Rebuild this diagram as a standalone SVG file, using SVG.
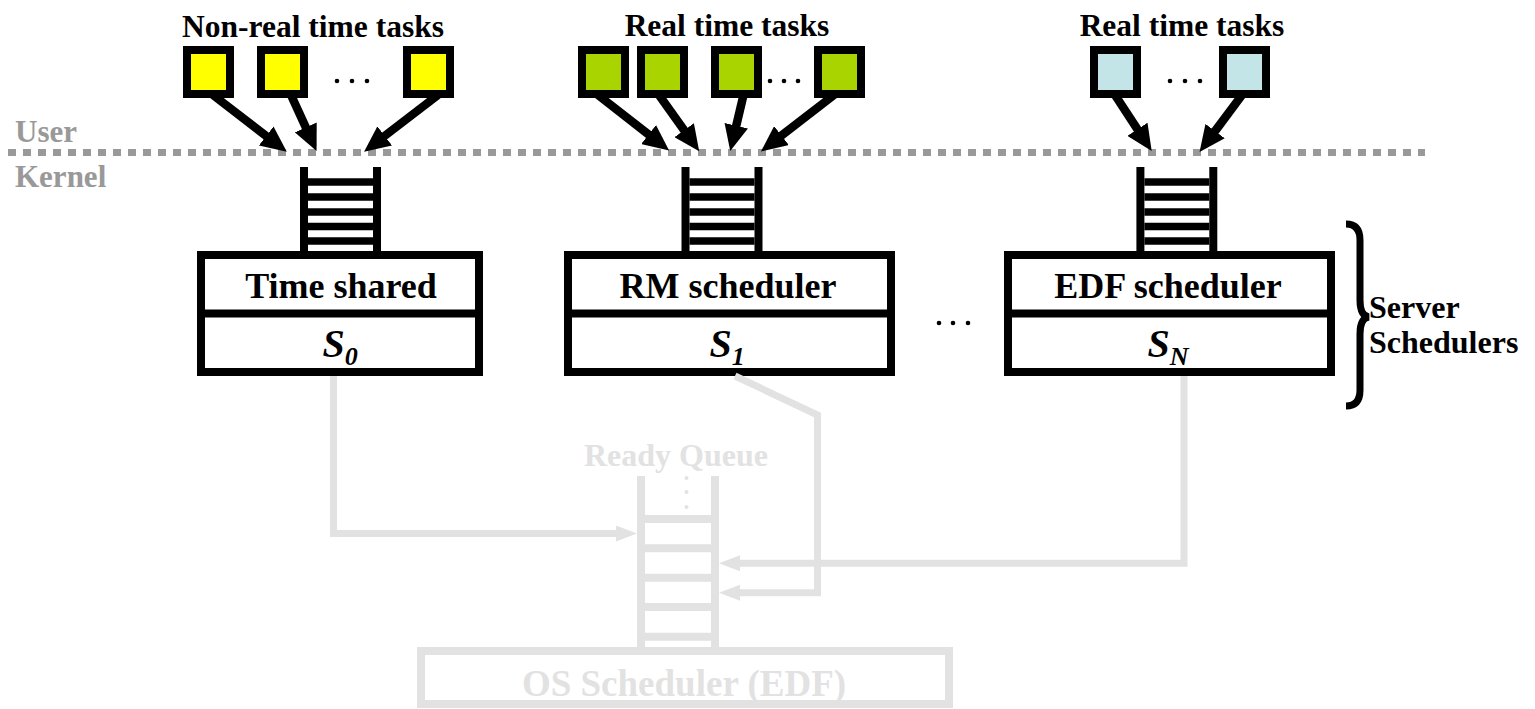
<svg xmlns="http://www.w3.org/2000/svg" width="1535" height="709" viewBox="0 0 1535 709">
<style>
.t{font-family:"Liberation Serif","Times New Roman",serif;font-weight:bold}
.it{font-style:italic}
.task{stroke:#000;stroke-width:8}
.y{fill:#ffff00}.g{fill:#aad400}.b{fill:#c4e5e8}
.arrow{stroke:#000;stroke-width:8.5;fill:none;marker-end:url(#ah)}
.garrow{stroke:#e2e2e2;stroke-width:7;fill:none;marker-end:url(#gah)}
.box{fill:#fff;stroke:#000;stroke-width:8}
.rail{stroke:#000;stroke-width:8}
.rung{stroke:#000;stroke-width:7.5}
.grail{stroke:#e2e2e2;stroke-width:8}
.gbox{fill:#fff;stroke:#e2e2e2;stroke-width:8}
.dot{fill:#000}
</style>
<defs>
<marker id="ah" markerUnits="userSpaceOnUse" viewBox="0 0 26 24" markerWidth="26" markerHeight="24" refX="1" refY="12" orient="auto"><path d="M0,0 L26,12 L0,24 z" fill="#000"/></marker>
<marker id="gah" markerUnits="userSpaceOnUse" viewBox="0 0 21 16" markerWidth="21" markerHeight="16" refX="1" refY="8" orient="auto"><path d="M0,0 L21,8 L0,16 z" fill="#e2e2e2"/></marker>
</defs>
<rect width="1535" height="709" fill="#fff"/>

<!-- user/kernel boundary -->
<g id="boundary">
<line x1="8" y1="152.5" x2="1425" y2="152.5" stroke="#999" stroke-width="7" stroke-dasharray="8 7"/>
<text class="t" x="15" y="142" font-size="31" fill="#999">User</text>
<text class="t" x="15" y="187" font-size="31" fill="#999">Kernel</text>
</g>

<!-- titles -->
<g id="titles">
<text class="t" x="313" y="37" font-size="31.5" text-anchor="middle">Non-real time tasks</text>
<text class="t" x="727" y="36" font-size="31.5" text-anchor="middle">Real time tasks</text>
<text class="t" x="1182" y="36" font-size="31.5" text-anchor="middle">Real time tasks</text>
</g>

<!-- task boxes -->
<g id="task-nrt-1"><rect class="task y" x="187" y="50" width="43" height="44"/></g>
<g id="task-nrt-2"><rect class="task y" x="261" y="50" width="43" height="44"/></g>
<g id="task-nrt-3"><rect class="task y" x="407" y="50" width="43" height="44"/></g>
<g id="dots-nrt"><circle class="dot" cx="337" cy="81" r="2.3"/><circle class="dot" cx="352" cy="81" r="2.3"/><circle class="dot" cx="367" cy="81" r="2.3"/></g>

<g id="task-rm-1"><rect class="task g" x="582" y="50" width="43" height="44"/></g>
<g id="task-rm-2"><rect class="task g" x="641" y="50" width="43" height="44"/></g>
<g id="task-rm-3"><rect class="task g" x="715" y="50" width="43" height="44"/></g>
<g id="task-rm-4"><rect class="task g" x="818" y="50" width="43" height="44"/></g>
<g id="dots-rm"><circle class="dot" cx="770" cy="81" r="2.3"/><circle class="dot" cx="784" cy="81" r="2.3"/><circle class="dot" cx="798" cy="81" r="2.3"/></g>

<g id="task-edf-1"><rect class="task b" x="1094" y="50" width="43" height="44"/></g>
<g id="task-edf-2"><rect class="task b" x="1223" y="50" width="43" height="44"/></g>
<g id="dots-edf"><circle class="dot" cx="1170" cy="81" r="2.3"/><circle class="dot" cx="1185" cy="81" r="2.3"/><circle class="dot" cx="1200" cy="81" r="2.3"/></g>

<!-- server scheduler S0 -->
<g id="server-s0">
<line class="rail" x1="304" y1="167" x2="304" y2="253"/>
<line class="rail" x1="377" y1="167" x2="377" y2="253"/>
<line class="rung" x1="308" y1="182" x2="373" y2="182"/>
<line class="rung" x1="308" y1="197" x2="373" y2="197"/>
<line class="rung" x1="308" y1="212" x2="373" y2="212"/>
<line class="rung" x1="308" y1="226.5" x2="373" y2="226.5"/>
<line class="rung" x1="308" y1="241" x2="373" y2="241"/>
<rect class="box" x="201" y="255" width="278" height="117"/>
<line class="rail" x1="201" y1="313.5" x2="479" y2="313.5"/>
<text class="t" x="341" y="298" font-size="36" text-anchor="middle">Time shared</text>
<text class="t it" x="340" y="357" font-size="40" text-anchor="middle">S<tspan font-size="26" dy="8">0</tspan></text>
</g>

<!-- server scheduler S1 -->
<g id="server-s1">
<line class="rail" x1="685.5" y1="167" x2="685.5" y2="253"/>
<line class="rail" x1="758.5" y1="167" x2="758.5" y2="253"/>
<line class="rung" x1="689.5" y1="182" x2="754.5" y2="182"/>
<line class="rung" x1="689.5" y1="197" x2="754.5" y2="197"/>
<line class="rung" x1="689.5" y1="212" x2="754.5" y2="212"/>
<line class="rung" x1="689.5" y1="226.5" x2="754.5" y2="226.5"/>
<line class="rung" x1="689.5" y1="241" x2="754.5" y2="241"/>
<rect class="box" x="568" y="255" width="323" height="117"/>
<line class="rail" x1="568" y1="313.5" x2="891" y2="313.5"/>
<text class="t" x="728" y="298" font-size="36" text-anchor="middle">RM scheduler</text>
<text class="t it" x="727" y="357" font-size="40" text-anchor="middle">S<tspan font-size="26" dy="8">1</tspan></text>
</g>

<g id="dots-servers"><circle class="dot" cx="939" cy="323" r="2.3"/><circle class="dot" cx="953" cy="323" r="2.3"/><circle class="dot" cx="968" cy="323" r="2.3"/></g>

<!-- server scheduler SN -->
<g id="server-sn">
<line class="rail" x1="1140.4" y1="167" x2="1140.4" y2="253"/>
<line class="rail" x1="1213.3" y1="167" x2="1213.3" y2="253"/>
<line class="rung" x1="1144.4" y1="182" x2="1209.3" y2="182"/>
<line class="rung" x1="1144.4" y1="197" x2="1209.3" y2="197"/>
<line class="rung" x1="1144.4" y1="212" x2="1209.3" y2="212"/>
<line class="rung" x1="1144.4" y1="226.5" x2="1209.3" y2="226.5"/>
<line class="rung" x1="1144.4" y1="241" x2="1209.3" y2="241"/>
<rect class="box" x="1008" y="255" width="323" height="117"/>
<line class="rail" x1="1008" y1="313.5" x2="1331" y2="313.5"/>
<text class="t" x="1168" y="298" font-size="36" text-anchor="middle">EDF scheduler</text>
<text class="t it" x="1168" y="357" font-size="40" text-anchor="middle">S<tspan font-size="26" dy="8">N</tspan></text>
</g>

<!-- brace -->
<g id="server-schedulers-label">
<path d="M1346,224 Q1360,224 1360,240 L1360,300 Q1360,316 1369,317 Q1360,318 1360,334 L1360,390 Q1360,406 1346,406" fill="none" stroke="#000" stroke-width="7"/>
<text class="t" x="1369" y="318" font-size="32">Server</text>
<text class="t" x="1369" y="353" font-size="32">Schedulers</text>
</g>

<!-- OS scheduler and ready queue -->
<g id="os-scheduler">
<rect class="gbox" x="421" y="651" width="528" height="53"/>
<text class="t" x="684" y="696" font-size="37" text-anchor="middle" fill="#e2e2e2">OS Scheduler (EDF)</text>
</g>
<g id="ready-queue">
<text class="t" x="676" y="466" font-size="32" text-anchor="middle" fill="#e2e2e2">Ready Queue</text>
<line class="grail" x1="641" y1="476" x2="641" y2="651"/>
<line class="grail" x1="715" y1="476" x2="715" y2="651"/>
<line class="grail" x1="645" y1="519" x2="711" y2="519"/>
<line class="grail" x1="645" y1="548.3" x2="711" y2="548.3"/>
<line class="grail" x1="645" y1="577.7" x2="711" y2="577.7"/>
<line class="grail" x1="645" y1="607" x2="711" y2="607"/>
<line class="grail" x1="645" y1="636.7" x2="711" y2="636.7"/>
<circle cx="686.5" cy="478" r="2" fill="#e2e2e2"/>
<circle cx="686.5" cy="492" r="2" fill="#e2e2e2"/>
<circle cx="686.5" cy="507" r="2" fill="#e2e2e2"/>
</g>

<!-- connectors -->
<g id="connectors">
<line class="arrow" x1="213" y1="95" x2="267" y2="136.6"/>
<line class="arrow" x1="291" y1="95" x2="306.2" y2="128.3"/>
<line class="arrow" x1="438" y1="95" x2="383.9" y2="136.5"/>
<line class="arrow" x1="598" y1="95" x2="649.4" y2="135.1"/>
<line class="arrow" x1="659" y1="95" x2="684.7" y2="131"/>
<line class="arrow" x1="743.5" y1="95" x2="736" y2="126.7"/>
<line class="arrow" x1="834" y1="95" x2="780.7" y2="136.2"/>
<line class="arrow" x1="1115" y1="95" x2="1138" y2="130.1"/>
<line class="arrow" x1="1242" y1="95" x2="1214.5" y2="131.9"/>
<polyline class="garrow" points="333.5,376 333.5,533.5 617,533.5"/>
<polyline class="garrow" points="735,376 817.5,415 817.5,592.7 739,592.7"/>
<polyline class="garrow" points="1184,376 1184,563.3 739,563.3"/>
</g>
</svg>
